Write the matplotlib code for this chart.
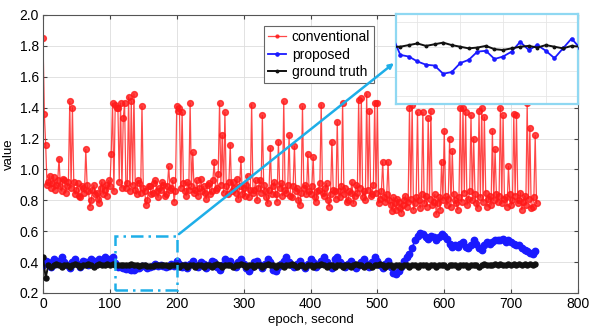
import matplotlib
matplotlib.use("Agg")
import matplotlib.pyplot as plt
import numpy as np
from matplotlib.patches import Rectangle

plt.rcParams["font.family"] = ["Liberation Sans", "DejaVu Sans"]

# ── data ───────────────────────────────────────────────────────────────────────
# conventional: one sample every 2 s, proposed / ground truth: every 4 s
epoch_fine = np.arange(0, 740, 2)
epoch = np.arange(0, 740, 4)

conventional = [
    1.85, 1.36, 1.16, 0.90, 0.92, 0.96, 0.88, 0.91, 0.95, 0.87, 0.90, 0.93, 1.07, 0.89, 0.86, 0.94, 0.93, 0.85, 0.89, 0.92,
    1.44, 0.88, 1.40, 0.92, 0.84, 0.87, 0.91, 0.83, 0.82, 0.89, 0.88, 0.85, 1.13, 0.90, 0.86, 0.76, 0.80, 0.87, 0.90, 0.84,
    0.85, 0.81, 0.78, 0.88, 0.92, 0.84, 0.87, 0.90, 0.83, 0.93, 0.89, 1.10, 1.43, 0.86, 1.42, 1.40, 1.40, 0.92, 1.43, 0.88,
    1.33, 1.43, 0.88, 0.91, 1.47, 0.86, 1.44, 0.90, 1.49, 0.87, 0.84, 0.93, 0.91, 0.85, 1.41, 0.88, 0.86, 0.77, 0.80, 0.89,
    0.89, 0.84, 0.85, 0.91, 0.93, 0.86, 0.82, 0.88, 0.87, 0.92, 0.90, 0.83, 0.84, 0.89, 1.02, 0.87, 0.88, 0.93, 0.79, 0.86,
    1.41, 1.38, 1.40, 0.88, 1.37, 0.91, 0.86, 0.83, 0.92, 0.87, 1.43, 0.89, 1.11, 0.85, 0.87, 0.93, 0.83, 0.88, 0.94, 0.86,
    0.89, 0.85, 0.81, 0.90, 0.91, 0.84, 0.86, 0.93, 1.05, 0.87, 0.88, 0.97, 1.43, 0.90, 1.22, 0.85, 1.37, 0.89, 0.84, 0.92,
    1.16, 0.86, 0.92, 0.88, 0.85, 0.94, 0.81, 0.89, 1.07, 0.84, 0.88, 0.83, 0.90, 0.96, 0.82, 0.87, 1.42, 0.85, 0.87, 0.93,
    0.80, 0.88, 0.93, 0.85, 1.35, 0.90, 0.86, 0.82, 0.78, 0.87, 1.14, 0.84, 0.89, 0.92, 0.84, 0.79, 1.18, 0.88, 0.91, 0.83,
    1.44, 0.87, 0.85, 0.90, 1.22, 0.83, 0.82, 0.89, 1.15, 0.86, 0.88, 0.80, 0.77, 0.85, 1.41, 0.88, 0.90, 0.84, 1.10, 0.86,
    0.84, 0.89, 1.08, 0.82, 0.79, 0.86, 0.87, 0.91, 1.42, 0.85, 0.83, 0.88, 0.91, 0.80, 0.76, 0.84, 1.18, 0.87, 0.86, 0.81,
    1.31, 0.86, 0.82, 0.89, 1.43, 0.84, 0.88, 0.79, 0.80, 0.86, 0.85, 0.92, 0.78, 0.83, 0.90, 0.85, 1.45, 0.88, 1.46, 0.82,
    0.86, 0.80, 1.49, 0.87, 1.38, 0.83, 0.84, 0.90, 1.43, 0.85, 1.43, 0.78, 0.81, 0.86, 1.05, 0.82, 0.79, 0.84, 1.05, 0.80,
    0.77, 0.73, 0.82, 0.78, 0.74, 0.81, 0.79, 0.75, 0.72, 0.77, 0.80, 0.83, 0.76, 0.79, 1.40, 0.81, 1.42, 0.74, 0.78, 0.82,
    1.37, 0.80, 0.75, 0.84, 1.37, 0.78, 0.83, 0.76, 1.33, 0.81, 1.38, 0.77, 0.79, 0.84, 0.71, 0.78, 0.82, 0.74, 1.05, 0.80,
    1.25, 0.83, 0.77, 0.81, 1.20, 0.76, 1.12, 0.84, 0.80, 0.78, 0.74, 0.82, 1.40, 0.79, 1.40, 0.85, 1.37, 0.77, 0.81, 0.86,
    1.35, 0.80, 1.20, 0.84, 0.78, 0.75, 1.38, 0.82, 1.40, 0.79, 1.34, 0.85, 0.76, 0.81, 0.83, 0.77, 1.25, 0.80, 1.13, 0.84,
    0.79, 0.83, 1.40, 0.78, 1.35, 0.81, 0.82, 0.76, 1.02, 0.84, 0.77, 0.80, 1.36, 0.83, 1.35, 0.78, 0.80, 0.85, 0.74, 0.79,
    0.83, 0.77, 1.43, 0.81, 1.27, 0.75, 0.76, 0.82, 1.22, 0.78,
]

proposed = [
    0.38, 0.41, 0.40, 0.37, 0.42, 0.39, 0.41, 0.43, 0.40, 0.38,
    0.36, 0.40, 0.42, 0.39, 0.37, 0.41, 0.40, 0.38, 0.42, 0.41,
    0.39, 0.42, 0.40, 0.43, 0.41, 0.42, 0.43, 0.395, 0.370, 0.368,
    0.362, 0.358, 0.357, 0.347, 0.349, 0.360, 0.364, 0.374, 0.375, 0.365,
    0.368, 0.374, 0.386, 0.376, 0.382, 0.375, 0.366, 0.378, 0.390, 0.378,
    0.41, 0.39, 0.37, 0.38, 0.36, 0.39, 0.41, 0.38, 0.37, 0.40,
    0.39, 0.36, 0.38, 0.41, 0.40, 0.37, 0.35, 0.38, 0.42, 0.40,
    0.41, 0.38, 0.37, 0.40, 0.42, 0.39, 0.36, 0.34, 0.37, 0.40,
    0.41, 0.38, 0.36, 0.39, 0.42, 0.40, 0.35, 0.34, 0.37, 0.39,
    0.41, 0.43, 0.40, 0.38, 0.37, 0.39, 0.41, 0.38, 0.36, 0.39,
    0.42, 0.40, 0.37, 0.39, 0.41, 0.43, 0.40, 0.38, 0.36, 0.42,
    0.43, 0.40, 0.38, 0.37, 0.39, 0.41, 0.39, 0.36, 0.38, 0.40,
    0.42, 0.39, 0.37, 0.40, 0.43, 0.41, 0.38, 0.36, 0.39, 0.41,
    0.37, 0.33, 0.32, 0.34, 0.37, 0.41, 0.43, 0.45, 0.49, 0.54,
    0.57, 0.59, 0.58, 0.56, 0.55, 0.57, 0.56, 0.54, 0.56, 0.58,
    0.57, 0.55, 0.52, 0.50, 0.51, 0.50, 0.52, 0.53, 0.50, 0.49,
    0.51, 0.54, 0.52, 0.49, 0.48, 0.51, 0.53, 0.52, 0.53, 0.54,
    0.54, 0.54, 0.55, 0.53, 0.54, 0.53, 0.52, 0.51, 0.51, 0.49,
    0.48, 0.47, 0.46, 0.45, 0.47,
]

ground_truth = [
    0.43, 0.30, 0.38, 0.37, 0.38, 0.39, 0.38, 0.37, 0.38, 0.38,
    0.37, 0.38, 0.39, 0.38, 0.37, 0.38, 0.38, 0.39, 0.38, 0.37,
    0.38, 0.39, 0.38, 0.38, 0.39, 0.38, 0.39, 0.38, 0.380, 0.382,
    0.384, 0.381, 0.383, 0.385, 0.382, 0.380, 0.378, 0.379, 0.381, 0.377,
    0.376, 0.378, 0.380, 0.381, 0.379, 0.382, 0.380, 0.378, 0.381, 0.380,
    0.38, 0.37, 0.38, 0.38, 0.37, 0.38, 0.38, 0.37, 0.38, 0.38,
    0.37, 0.38, 0.38, 0.37, 0.38, 0.39, 0.38, 0.37, 0.38, 0.38,
    0.38, 0.37, 0.38, 0.38, 0.39, 0.38, 0.37, 0.38, 0.38, 0.37,
    0.38, 0.38, 0.37, 0.38, 0.39, 0.38, 0.38, 0.37, 0.38, 0.38,
    0.37, 0.38, 0.38, 0.39, 0.38, 0.37, 0.38, 0.38, 0.37, 0.38,
    0.38, 0.37, 0.38, 0.38, 0.39, 0.38, 0.37, 0.38, 0.38, 0.37,
    0.38, 0.38, 0.37, 0.38, 0.38, 0.37, 0.38, 0.39, 0.38, 0.38,
    0.37, 0.38, 0.38, 0.37, 0.38, 0.38, 0.39, 0.38, 0.37, 0.38,
    0.38, 0.37, 0.38, 0.38, 0.37, 0.38, 0.38, 0.37, 0.38, 0.38,
    0.37, 0.38, 0.38, 0.38, 0.37, 0.38, 0.38, 0.37, 0.38, 0.38,
    0.38, 0.37, 0.38, 0.38, 0.38, 0.37, 0.38, 0.38, 0.38, 0.37,
    0.38, 0.38, 0.38, 0.37, 0.38, 0.39, 0.38, 0.38, 0.38, 0.39,
    0.38, 0.39, 0.38, 0.38, 0.39, 0.38, 0.39, 0.38, 0.39, 0.38,
    0.39, 0.38, 0.39, 0.38, 0.39,
]

RED = "#ff1a1a"
BLUE = "#1a1aff"
BLACK = "#111111"
CYAN = "#1eaee8"
FRAME = "#8fd8f2"


def draw_series(ax, ms_scale=1.0):
    ax.plot(epoch_fine, conventional, color=RED, lw=0.9, alpha=0.8,
            marker="o", ms=4.2 * ms_scale, mec=RED, mfc=RED,
            label="conventional", zorder=2)
    ax.plot(epoch, proposed, color=BLUE, lw=1.3,
            marker="o", ms=4.6 * ms_scale, mec=BLUE, mfc=BLUE,
            label="proposed", zorder=3)
    ax.plot(epoch, ground_truth, color=BLACK, lw=1.4,
            marker="o", ms=3.6 * ms_scale, mec=BLACK, mfc=BLACK,
            label="ground truth", zorder=4)


fig = plt.figure(figsize=(5.92, 3.32), dpi=100)
ax = fig.add_axes([43 / 592, 1 - 293 / 332, 535 / 592, 278 / 332])
draw_series(ax)

ax.set_xlim(0, 800)
ax.set_ylim(0.2, 2.0)
ax.set_xticks(np.arange(0, 801, 100))
ax.set_yticks(np.arange(0.2, 2.01, 0.2))
ax.set_yticklabels([f"{v:.1f}" for v in np.arange(0.2, 2.01, 0.2)])
ax.grid(True, color="#dddddd", lw=0.6)
ax.set_axisbelow(True)
ax.tick_params(direction="in", top=True, right=True, labelsize=10,
               length=3, color="#444444", pad=3)
for s in ax.spines.values():
    s.set_color("#555555")
    s.set_linewidth(0.8)
ax.set_xlabel("epoch, second", fontsize=9.5, labelpad=2)
ax.set_ylabel("value", fontsize=9.5, labelpad=3)

leg = ax.legend(loc="upper left", bbox_to_anchor=(0.40, 0.985), fontsize=10,
                handlelength=1.3, handletextpad=0.4, borderpad=0.3,
                labelspacing=0.25, fancybox=False, edgecolor="#666666",
                framealpha=1, markerscale=0.5)
leg.get_frame().set_linewidth(0.8)

# zoom window
ax.add_patch(Rectangle((108, 0.22), 92, 0.35, fill=False, ec=CYAN, lw=1.8,
                       ls=(0, (5, 2, 1, 2)), zorder=6))
ax.annotate("", xy=(528, 1.70), xytext=(200, 0.57),
            arrowprops=dict(arrowstyle="-|>", color=CYAN, lw=1.8,
                            mutation_scale=7), zorder=6)

# inset
axin = fig.add_axes([396 / 592, 1 - 104 / 332, 182 / 592, 90 / 332])
draw_series(axin, ms_scale=0.5)
axin.set_xlim(110, 195)
axin.set_ylim(0.31, 0.42)
axin.set_xticks(np.arange(120, 195, 20))
axin.set_yticks(np.arange(0.32, 0.42, 0.03))
axin.tick_params(length=0, labelbottom=False, labelleft=False)
axin.grid(True, color="#e6e6e6", lw=0.6)
axin.set_facecolor("white")
for s in axin.spines.values():
    s.set_color(FRAME)
    s.set_linewidth(1.6)

plt.savefig("out.png", dpi=100, facecolor="white")
